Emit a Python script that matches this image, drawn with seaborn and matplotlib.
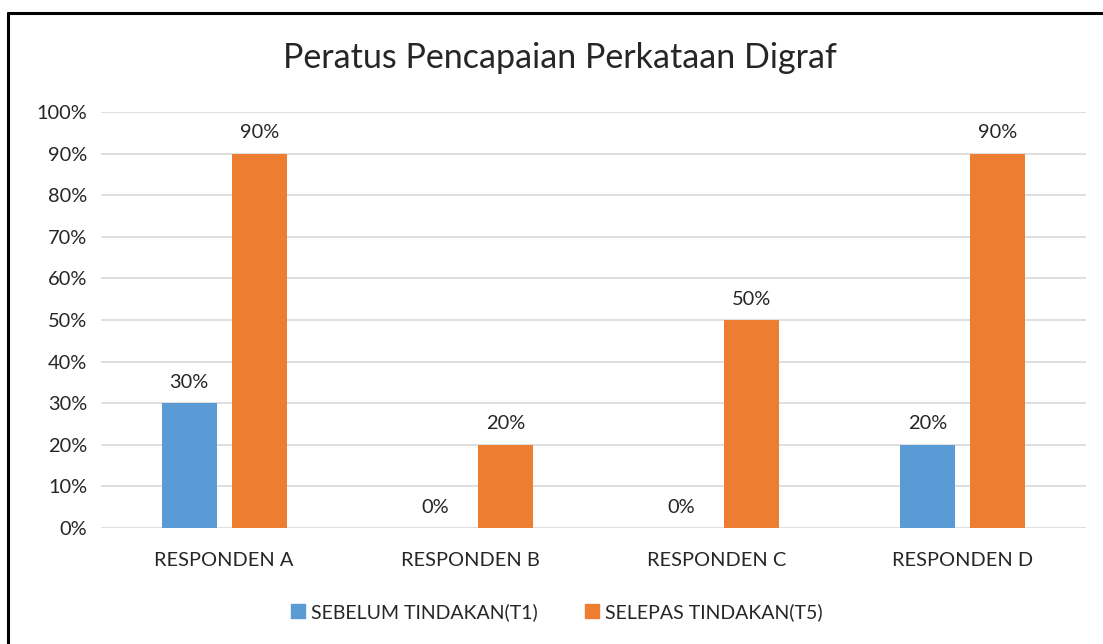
import numpy as np
import pandas as pd
import matplotlib.pyplot as plt
import seaborn as sns
from matplotlib.lines import Line2D

responden = ['RESPONDEN A', 'RESPONDEN B', 'RESPONDEN C', 'RESPONDEN D']
sebelum = [30, 0, 0, 20]
selepas = [90, 20, 50, 90]
siri = ['SEBELUM TINDAKAN(T1)', 'SELEPAS TINDAKAN(T5)']

df = pd.DataFrame({
    'Responden': responden * 2,
    'Peratus': sebelum + selepas,
    'Siri': [siri[0]] * 4 + [siri[1]] * 4,
})

sns.set_style('white')
plt.rcParams['font.family'] = ['Lato', 'DejaVu Sans']

fig = plt.figure(figsize=(11.03, 6.44), dpi=100)
ax = fig.add_axes([0.0916, 0.180, 0.893, 0.646])

sns.barplot(data=df, x='Responden', y='Peratus', hue='Siri', ax=ax,
            palette=['#5B9BD5', '#ED7D31'], width=0.569, gap=0.214,
            saturation=1, legend=False, linewidth=0)

ax.set_ylim(0, 100)
ax.set_xlim(-0.5, 3.5)
ax.set_yticks(np.arange(0, 101, 10))
ax.set_yticklabels([f'{v}%' for v in range(0, 101, 10)], fontsize=14.4)
ax.tick_params(axis='x', labelsize=14.4, pad=17, length=0)
ax.tick_params(axis='y', pad=10, length=0)
ax.yaxis.grid(True, color='#D9D9D9', linewidth=1.2)
ax.set_axisbelow(True)
for s in ax.spines.values():
    s.set_visible(False)
ax.set_xlabel('')
ax.set_ylabel('')

for cont in ax.containers:
    labels = [f'{int(b.get_height())}%' for b in cont]
    ax.bar_label(cont, labels=labels, padding=9, fontsize=14.4)

fig.text(0.508, 0.91, 'Peratus Pencapaian Perkataan Digraf', ha='center',
         va='center', fontsize=24.5)

handles = [plt.Rectangle((0, 0), 1, 1, color=c) for c in ['#5B9BD5', '#ED7D31']]
fig.legend(handles, siri, loc='center', bbox_to_anchor=(0.505, 0.05), ncol=2,
           frameon=False, fontsize=14, handlelength=0.7, handleheight=0.7,
           columnspacing=2.4, handletextpad=0.35)

# chart frame (only top and left visible in reference)
fig.add_artist(Line2D([0.0075, 1], [0.98, 0.98], color='black', lw=2.2,
                      transform=fig.transFigure))
fig.add_artist(Line2D([0.0075, 0.0075], [0, 0.98], color='black', lw=2.2,
                      transform=fig.transFigure))

fig.savefig('out.png', dpi=100)
